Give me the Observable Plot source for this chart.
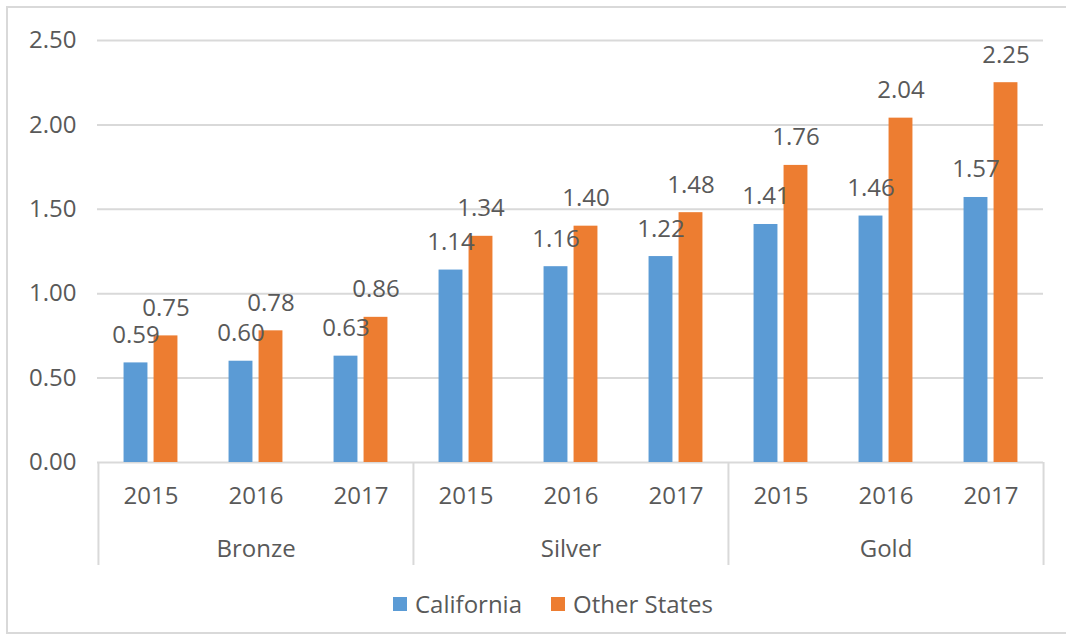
<!DOCTYPE html>
<html>
<head>
<meta charset="utf-8">
<script src="https://cdn.jsdelivr.net/npm/d3@7"></script>
<script src="https://cdn.jsdelivr.net/npm/@observablehq/plot@0.6"></script>
<style>
  html, body { margin: 0; padding: 0; background: #fff; overflow: hidden; }
  #wrap { position: relative; width: 1066px; height: 644px; font-family: "Open Sans", sans-serif; color: #595959; }
  #border { position: absolute; left: 6px; top: 6px; width: 1080px; height: 628px; border: 2px solid #d9d9d9; box-sizing: border-box; pointer-events: none; }
  #chart { position: absolute; left: 0; top: 0; }
  #legend { position: absolute; left: 393px; top: 589px; display: flex; align-items: center; font-size: 24px; line-height: 30px; }
  .item { display: flex; align-items: center; }
  .sw { width: 14px; height: 14px; margin-right: 8px; }
</style>
</head>
<body>
<div id="wrap">
  <div id="border"></div>
  <div id="chart"></div>
  <div id="legend"></div>
</div>
<script>
const medals = ["Bronze", "Silver", "Gold"];
const years = ["2015", "2016", "2017"];
const seriesNames = ["California", "Other States"];
const seriesColors = ["#5b9bd5", "#ed7d31"];
const california = [0.59, 0.60, 0.63, 1.14, 1.16, 1.22, 1.41, 1.46, 1.57];
const otherStates = [0.75, 0.78, 0.86, 1.34, 1.40, 1.48, 1.76, 2.04, 2.25];
const yTicks = [0, 0.5, 1.0, 1.5, 2.0, 2.5];

const keys = [];
const rows = [];
medals.forEach((m, mi) => years.forEach((yr, yi) => {
  const k = m + " " + yr;
  keys.push(k);
  const i = mi * years.length + yi;
  rows.push({key: k, medal: m, year: yr, ca: california[i], os: otherStates[i]});
}));
const groupStarts = medals.map(m => m + " " + years[0]);
const groupMiddles = medals.map(m => m + " " + years[1]);
const lastKey = keys[keys.length - 1];

const W = 1066, H = 580;
const mL = 97, mR = 23, mT = 40, mB = 118;
const band = (W - mL - mR) / keys.length;
const barW = 24, off = 15;
const half = band / 2;
const grid = "#d9d9d9";
const fmt = d3.format(".2f");

const chart = Plot.plot({
  width: W,
  height: H,
  marginLeft: mL,
  marginRight: mR,
  marginTop: mT,
  marginBottom: mB,
  style: {background: "transparent", fontFamily: "Open Sans, sans-serif", fontSize: "24px", color: "#595959", overflow: "visible"},
  x: {domain: keys, padding: 0, label: null},
  y: {domain: [0, 2.5], label: null},
  marks: [
    Plot.ruleY(yTicks, {stroke: grid, strokeWidth: 2}),
    Plot.axisY(yTicks, {tickFormat: fmt, tickSize: 0, tickPadding: 21, fontSize: 24, fill: "#595959", label: null}),
    Plot.barY(rows, {x: "key", y: "ca", fill: seriesColors[0], insetLeft: half - off - barW / 2, insetRight: half + off - barW / 2}),
    Plot.barY(rows, {x: "key", y: "os", fill: seriesColors[1], insetLeft: half + off - barW / 2, insetRight: half - off - barW / 2}),
    Plot.text(rows, {x: "key", y: "ca", text: d => fmt(d.ca), dx: -off, dy: -20, lineAnchor: "bottom", fontSize: 24, fill: "#595959"}),
    Plot.text(rows, {x: "key", y: "os", text: d => fmt(d.os), dx: off, dy: -20, lineAnchor: "bottom", fontSize: 24, fill: "#595959"}),
    Plot.text(rows, {x: "key", text: "year", frameAnchor: "bottom", dy: 34, lineAnchor: "middle", fontSize: 24, fill: "#595959"}),
    Plot.text(rows.filter(d => groupMiddles.includes(d.key)), {x: "key", text: "medal", frameAnchor: "bottom", dy: 87, lineAnchor: "middle", fontSize: 24, fill: "#595959"}),
    Plot.axisX(groupStarts, {tickSize: 103, tickFormat: () => "", label: null, dx: -half, stroke: grid, strokeWidth: 2}),
    Plot.axisX([lastKey], {tickSize: 103, tickFormat: () => "", label: null, dx: half, stroke: grid, strokeWidth: 2})
  ]
});
document.getElementById("chart").appendChild(chart);

const legend = document.getElementById("legend");
seriesNames.forEach((name, i) => {
  const item = document.createElement("div");
  item.className = "item";
  if (i > 0) item.style.marginLeft = "29px";
  const sw = document.createElement("div");
  sw.className = "sw";
  sw.style.background = seriesColors[i];
  const label = document.createElement("span");
  label.textContent = name;
  item.appendChild(sw);
  item.appendChild(label);
  legend.appendChild(item);
});
</script>
</body>
</html>
